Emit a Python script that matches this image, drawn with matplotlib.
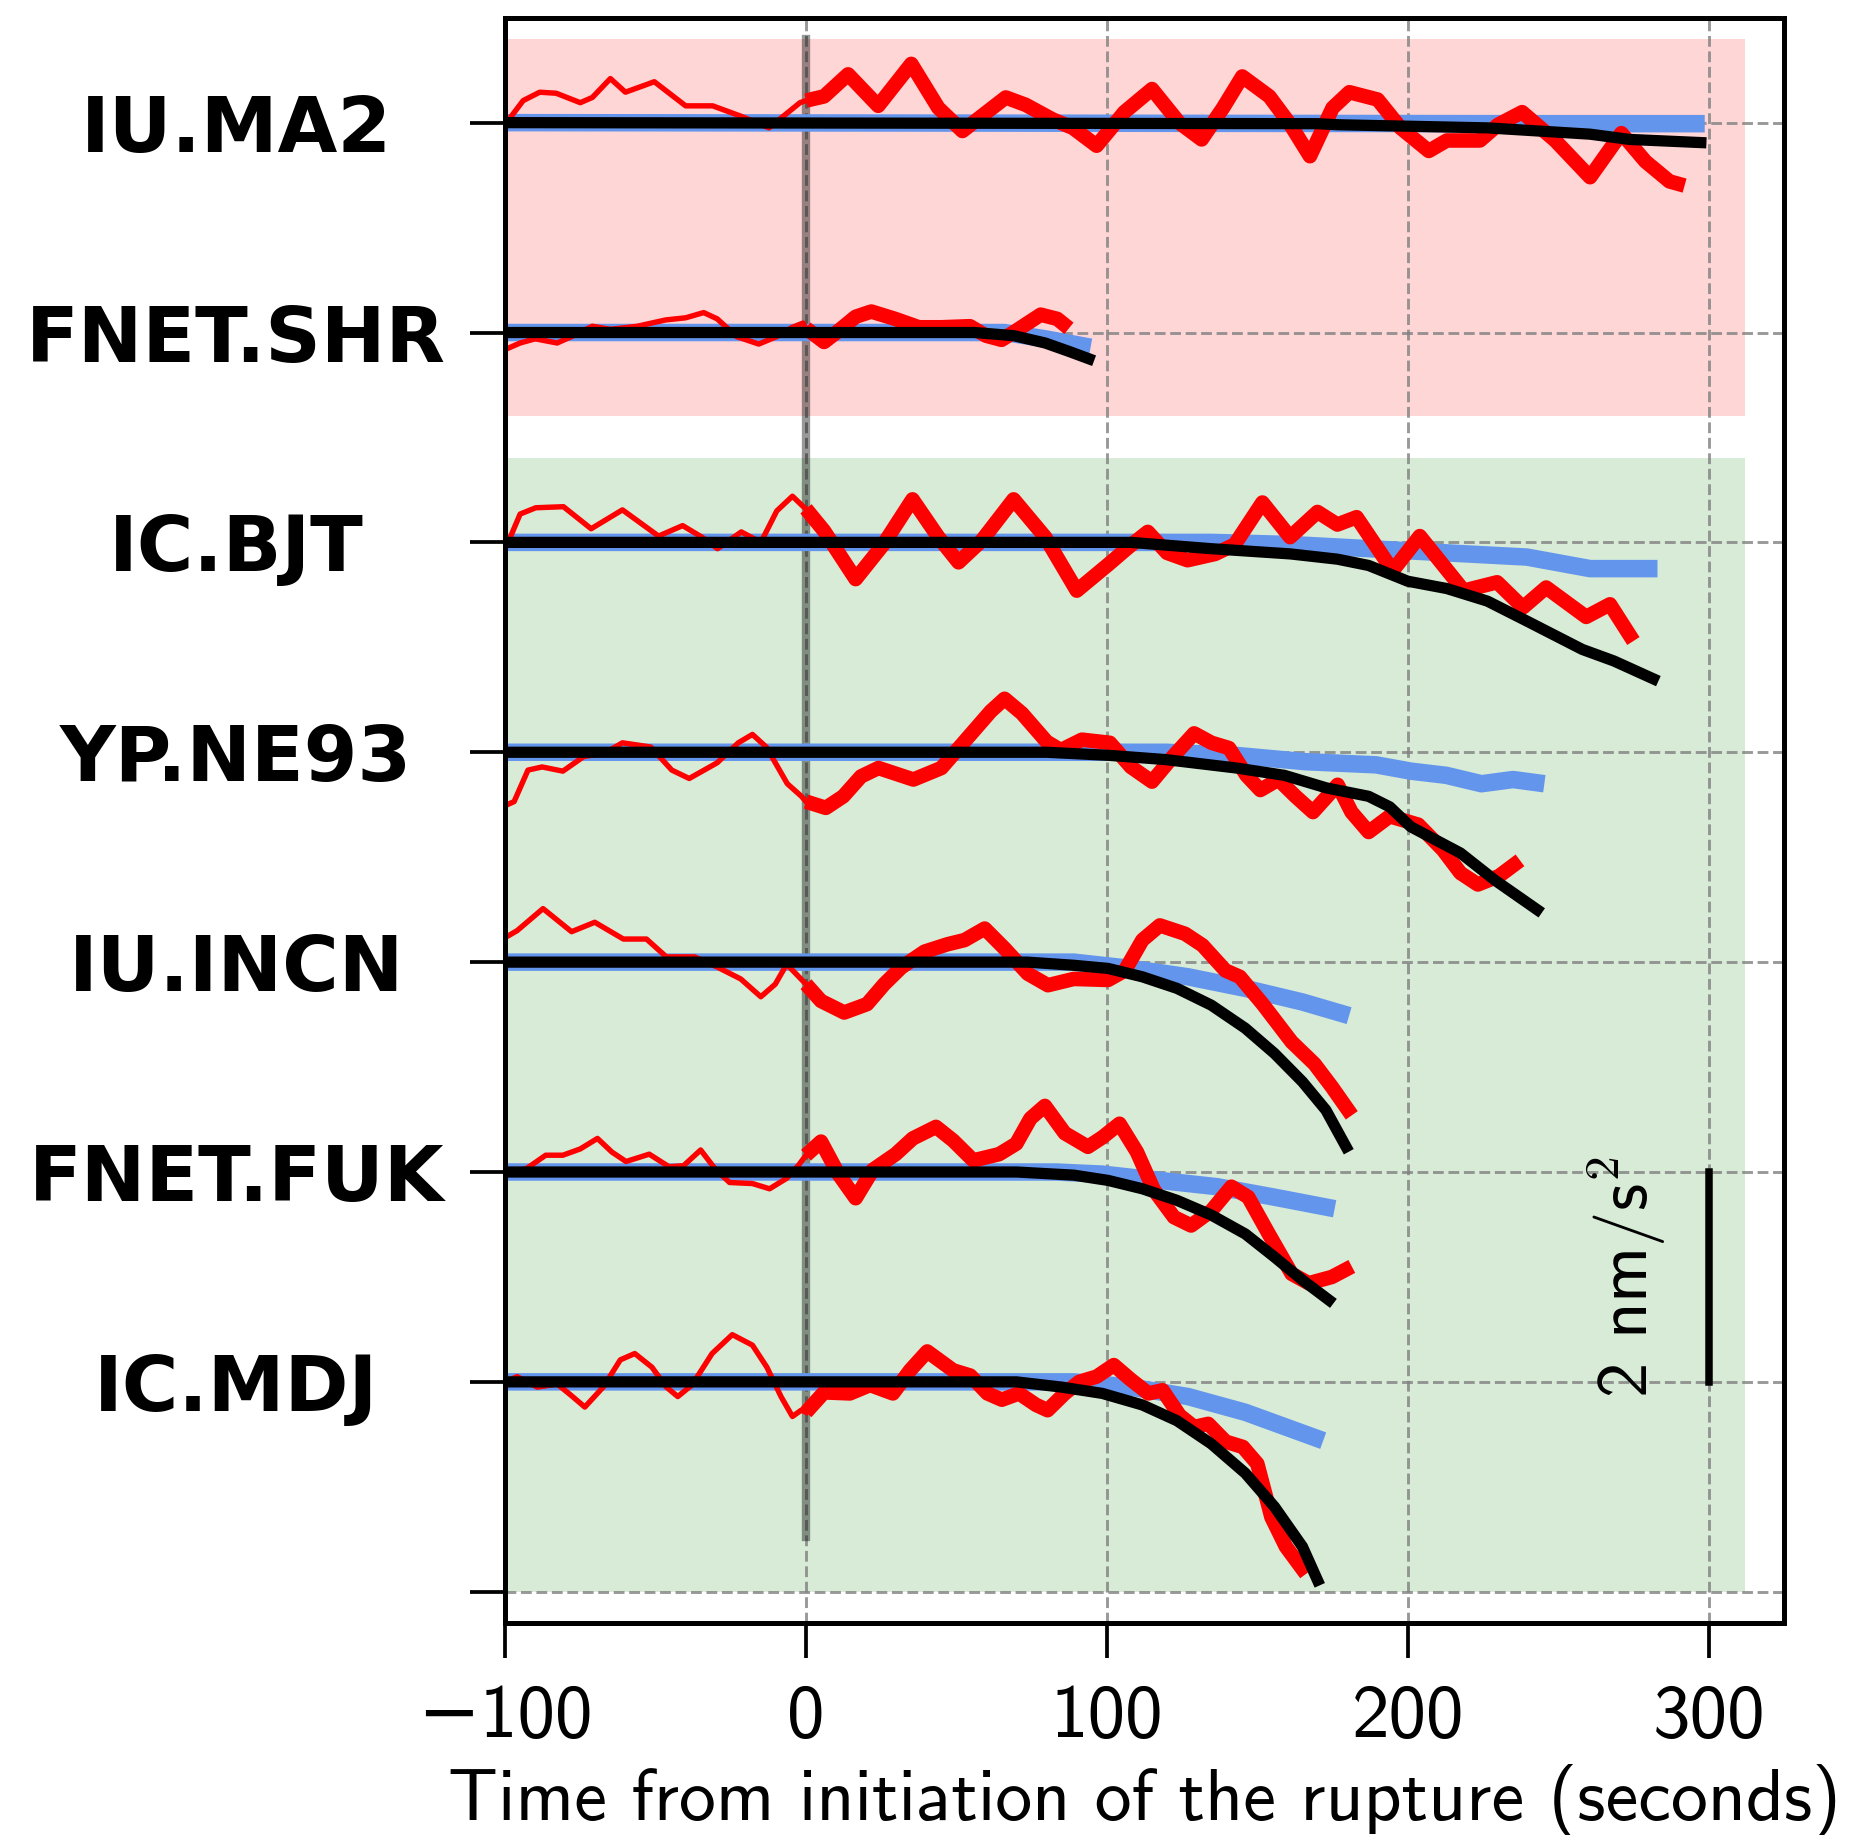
import matplotlib.pyplot as plt

# station order from bottom (offset 1) to top (offset 7)
stations = ["IC.MDJ", "FNET.FUK", "IU.INCN", "YP.NE93", "IC.BJT", "FNET.SHR", "IU.MA2"]

# traces as (time in s, acceleration in nm/s^2)
# red = observed, blue / black = the two model curves

ma2_red = [(-99, 0.02), (-94, 0.21), (-88.5, 0.29), (-83, 0.28), (-75, 0.19), (-71, 0.24),
           (-65, 0.42), (-60, 0.29), (-50.4, 0.39), (-40, 0.16), (-31, 0.16), (-21.5, 0.06),
           (-12.3, -0.05), (-2, 0.19), (0, 0.21), (6, 0.25), (14, 0.46), (24, 0.16), (35, 0.56),
           (44, 0.14), (52, -0.08), (66.4, 0.24), (73, 0.17), (82, 0.03), (88.7, -0.05),
           (96.6, -0.22), (105.8, 0.10), (115, 0.32), (124, 0.0), (131.5, -0.16), (138.6, 0.14),
           (145, 0.44), (154, 0.25), (161, -0.02), (167.5, -0.32), (175, 0.14), (180.6, 0.29),
           (190, 0.22), (197.6, -0.05), (207, -0.27), (213, -0.17), (224, -0.17), (230, -0.02),
           (238, 0.10), (249, -0.17), (260.6, -0.52), (271, -0.10), (279, -0.37), (287, -0.56),
           (292, -0.60)]
ma2_black = [(-100, 0), (170, -0.01), (176.6, -0.02), (226.5, -0.05), (260.6, -0.11),
             (273.7, -0.16), (297.4, -0.19)]
ma2_blue = [(-100, 0), (250, -0.01), (298.7, -0.01)]

shr_red = [(-99, -0.15), (-95, -0.10), (-90, -0.06), (-82.7, -0.10), (-78, -0.04), (-71, 0.06),
           (-65, 0.03), (-56, 0.06), (-46.6, 0.12), (-40, 0.14), (-34, 0.19), (-29.5, 0.13),
           (-23, -0.04), (-15.7, -0.11), (-9.8, -0.04), (-4.5, 0.05), (-1, 0.09), (0, 0.04),
           (6, -0.09), (11, 0.02), (16.5, 0.15), (21.7, 0.20), (29.6, 0.13), (37.5, 0.05),
           (45, 0.05), (54.5, 0.06), (59.8, -0.03), (65, -0.07), (70, 0.02), (78, 0.17),
           (83.5, 0.13), (87.4, 0.04)]
shr_black = [(-100, 0), (56, 0), (69, -0.03), (79.5, -0.10), (87.4, -0.18), (94, -0.25)]
shr_blue = [(-100, 0), (66, 0), (79.5, -0.06), (94.6, -0.14)]

bjt_red = [(-99, 0.0), (-95, 0.27), (-89.8, 0.33), (-80.6, 0.34), (-71.4, 0.13), (-61, 0.31),
           (-49, 0.06), (-41, 0.16), (-34.6, 0.05), (-29.4, -0.06), (-21.5, 0.10), (-15, 0.0),
           (-9.7, 0.30), (-4.5, 0.44), (-0.5, 0.33), (0, 0.32), (6, 0.11), (16.5, -0.35),
           (25.7, -0.02), (35.4, 0.41), (44, 0.05), (50.7, -0.19), (58.5, 0.02), (69, 0.41),
           (79.5, 0.05), (90, -0.46), (100.5, -0.21), (107, -0.05), (113.6, 0.10), (120, -0.10),
           (126.8, -0.17), (136, -0.11), (142.5, -0.02), (151.7, 0.38), (160.9, 0.05),
           (170, 0.29), (176.6, 0.17), (183, 0.24), (195, -0.27), (204, 0.06), (218.6, -0.46),
           (229.7, -0.38), (238.3, -0.62), (246, -0.43), (259.3, -0.71), (267.2, -0.59),
           (275, -0.94)]
bjt_black = [(-100, 0), (108, 0), (134.6, -0.06), (161, -0.11), (176.6, -0.16), (187, -0.22),
             (200, -0.37), (213, -0.44), (226.5, -0.56), (239.6, -0.75), (258, -1.02),
             (268.5, -1.13), (281.6, -1.30)]
bjt_blue = [(-100, 0), (134.6, 0), (161, -0.02), (187, -0.06), (213, -0.10), (239.6, -0.14),
            (260.6, -0.25), (283, -0.25)]

ne93_red = [(-99.3, -0.50), (-97, -0.47), (-92.4, -0.17), (-87.7, -0.14), (-80.8, -0.18),
            (-73.8, -0.04), (-67, -0.01), (-61, 0.09), (-51.6, 0.05), (-44.6, -0.17),
            (-38.8, -0.25), (-29.5, -0.10), (-22.5, 0.09), (-17.8, 0.17), (-13.2, 0.05),
            (-6.2, -0.30), (-1.5, -0.42), (0, -0.47), (6.6, -0.53), (12.4, -0.42), (18.3, -0.23),
            (24.1, -0.15), (35.7, -0.26), (45, -0.15), (53.2, 0.12), (61.4, 0.39), (66, 0.51),
            (71.8, 0.37), (80, 0.10), (84.7, 0.02), (91.7, 0.12), (101, 0.09), (108, -0.14),
            (115, -0.28), (122, -0.04), (129, 0.18), (134.8, 0.09), (140.6, 0.04), (146.4, -0.22),
            (151, -0.36), (157, -0.26), (162.7, -0.42), (168.5, -0.57), (176.7, -0.31),
            (181.3, -0.57), (187, -0.76), (194, -0.61), (203.5, -0.69), (211.7, -0.93),
            (217.5, -1.15), (223.3, -1.26), (230.3, -1.18), (237.3, -1.03)]
ne93_black = [(-100, 0), (80, 0), (101, -0.03), (119.6, -0.07), (143, -0.15), (159, -0.22),
              (173, -0.34), (187, -0.42), (194, -0.52), (201, -0.71), (217.5, -0.96),
              (229, -1.22), (243, -1.50)]
ne93_blue = [(-100, 0), (119.6, 0), (143, -0.03), (166, -0.09), (189.5, -0.12), (201, -0.18),
             (212.8, -0.22), (224.5, -0.30), (235, -0.26), (245.4, -0.30)]

incn_red = [(-99, 0.25), (-96, 0.30), (-87.4, 0.51), (-77.9, 0.29), (-70.2, 0.38), (-60.7, 0.22),
            (-53, 0.22), (-46.4, 0.05), (-37, 0.05), (-29.3, -0.05), (-21.7, -0.16),
            (-15, -0.33), (-10.2, -0.21), (-6.4, -0.02), (0, -0.21), (5, -0.37), (12.7, -0.48),
            (20.3, -0.40), (26, -0.21), (31.7, -0.05), (39.4, 0.10), (47, 0.17), (52.7, 0.21),
            (59.4, 0.32), (66, 0.13), (73.7, -0.11), (80.4, -0.22), (89, -0.16), (100.4, -0.17),
            (106, -0.08), (111.8, 0.21), (117.6, 0.35), (126, 0.27), (131.8, 0.16),
            (139.4, -0.08), (144.2, -0.14), (151.8, -0.40), (161.4, -0.76), (169, -0.97),
            (174.8, -1.19), (181.4, -1.46)]
incn_black = [(-100, 0), (73.7, 0), (89, -0.03), (100.4, -0.06), (111.8, -0.14), (123.3, -0.25),
              (134.7, -0.41), (146, -0.63), (155.7, -0.87), (165, -1.14), (172.8, -1.41),
              (179.5, -1.76)]
incn_blue = [(-100, 0), (89, 0), (108, -0.06), (127, -0.14), (146, -0.25), (165, -0.38),
             (180.5, -0.51)]

fuk_red = [(-99.8, 0.0), (-93, 0.03), (-86.5, 0.16), (-80.8, 0.16), (-75, 0.22), (-69.3, 0.32),
           (-64.5, 0.19), (-59.8, 0.10), (-52.1, 0.17), (-45.5, 0.05), (-40.7, 0.06), (-35, 0.21),
           (-30.2, 0.03), (-25.4, -0.10), (-17.8, -0.11), (-12.1, -0.16), (-6.4, -0.06),
           (-2.6, 0.06), (0, 0.16), (5, 0.29), (10.8, -0.02), (16.5, -0.25), (22.2, 0.02),
           (29.8, 0.17), (35.5, 0.32), (43.2, 0.43), (48.9, 0.30), (55.6, 0.11), (64.2, 0.17),
           (69.9, 0.27), (74.6, 0.51), (79.4, 0.63), (86, 0.37), (93.7, 0.24), (98.5, 0.33),
           (104.2, 0.46), (110, 0.19), (115.6, -0.17), (122.3, -0.43), (128, -0.51),
           (134.7, -0.37), (141.4, -0.14), (147, -0.24), (153.8, -0.59), (161.4, -0.97),
           (167.1, -1.06), (174.8, -1.00), (181.4, -0.90)]
fuk_black = [(-100, 0), (70, 0), (89, -0.03), (100.4, -0.08), (111.8, -0.16), (123.3, -0.27),
             (134.7, -0.41), (146, -0.59), (155.7, -0.81), (165, -1.03), (173.8, -1.22)]
fuk_blue = [(-100, 0), (83, 0), (98.5, -0.02), (117.5, -0.08), (136.6, -0.14), (155.7, -0.24),
            (175.7, -0.35)]

mdj_red = [(-99.8, 0.0), (-96, 0.05), (-89.3, -0.05), (-82.7, -0.02), (-78, -0.13),
           (-73.5, -0.24), (-67.4, -0.05), (-61.7, 0.21), (-56.9, 0.27), (-51.2, 0.14),
           (-46.4, -0.05), (-42.6, -0.14), (-37.9, -0.03), (-31.2, 0.27), (-24.5, 0.45),
           (-17.8, 0.35), (-13, 0.14), (-8.3, -0.14), (-4.5, -0.33), (-1.6, -0.27), (0, -0.29),
           (6, -0.10), (14.6, -0.11), (21.3, -0.03), (28.9, -0.11), (34.6, 0.11), (40.3, 0.29),
           (48.9, 0.11), (54.6, 0.06), (60.3, -0.11), (65.1, -0.17), (70.8, -0.11),
           (76.5, -0.22), (80.3, -0.27), (86, -0.11), (90.8, 0.0), (96.6, 0.05), (102.3, 0.16),
           (108, 0.02), (113.8, -0.11), (118.5, -0.08), (124.2, -0.32), (129, -0.43),
           (133.7, -0.40), (139.5, -0.57), (145.2, -0.62), (150, -0.78), (154.7, -1.29),
           (159.5, -1.57), (166.2, -1.83)]
mdj_black = [(-100, 0), (70, 0), (85, -0.05), (98.5, -0.11), (111.8, -0.22), (123.3, -0.37),
             (134.7, -0.59), (146, -0.87), (155.7, -1.19), (165, -1.57), (170, -1.89)]
mdj_blue = [(-100, 0), (89, 0), (108, -0.05), (127, -0.14), (146, -0.29), (171.9, -0.56)]

red_traces = [mdj_red, fuk_red, incn_red, ne93_red, bjt_red, shr_red, ma2_red]
black_traces = [mdj_black, fuk_black, incn_black, ne93_black, bjt_black, shr_black, ma2_black]
blue_traces = [mdj_blue, fuk_blue, incn_blue, ne93_blue, bjt_blue, shr_blue, ma2_blue]

scale = 0.5  # one offset unit = 2 nm/s^2

plt.rcParams['axes.unicode_minus'] = True
plt.rcParams['mathtext.fontset'] = 'cm'
sans = ['cmss10', 'DejaVu Sans']

fig = plt.figure(figsize=(6.183, 6.117), dpi=300)
ax = fig.add_axes([0.2723, 0.1154, 0.6894, 0.8749])

# shaded groups
ax.fill_between([-100, 312], 5.6, 7.4, color='red', alpha=0.16, lw=0, zorder=0.5)
ax.fill_between([-100, 312], 0, 5.4, color='green', alpha=0.155, lw=0, zorder=0.5)

ax.plot([0, 0], [0.26, 7.4], color='k', alpha=0.4, lw=2.0, zorder=1.8)

for k in range(len(stations)):
    off = k + 1
    red = red_traces[k]
    pre = [p for p in red if p[0] <= 0]
    post = [p for p in red if p[0] >= 0]
    ax.plot([p[0] for p in blue_traces[k]], [off + scale * p[1] for p in blue_traces[k]],
            color='cornflowerblue', lw=4.2, solid_capstyle='butt', zorder=2)
    ax.plot([p[0] for p in pre], [off + scale * p[1] for p in pre],
            color='red', lw=1.3, solid_joinstyle='round', zorder=2.1)
    ax.plot([p[0] for p in post], [off + scale * p[1] for p in post],
            color='red', lw=3.5, solid_joinstyle='round', solid_capstyle='butt', zorder=2.2)
    ax.plot([p[0] for p in black_traces[k]], [off + scale * p[1] for p in black_traces[k]],
            color='black', lw=2.7, solid_joinstyle='round', zorder=2.3)

# scale bar
ax.plot([300, 300], [1, 2], color='black', lw=1.8, zorder=3)
ax.text(273, 1.5, r'2 nm/s$^{\mathsf{2}}$', rotation=90, ha='center', va='center',
        fontsize=17, family=sans)

ax.set_xlim(-100, 325)
ax.set_ylim(-0.15, 7.5)
ax.set_xticks([-100, 0, 100, 200, 300])
ax.set_yticks(range(0, 8))
ax.set_yticklabels([''] + stations, fontweight='bold', fontsize=18.5, ha='center')
ax.tick_params(axis='y', length=8.5, width=0.9, pad=56)
ax.tick_params(axis='x', length=8.5, width=0.9, pad=6, labelsize=18)
for lab in ax.get_xticklabels():
    lab.set_family(sans)
ax.set_xlabel('Time from initiation of the rupture (seconds)', fontsize=17.7,
              family=sans, labelpad=3)
ax.grid(True, color='gray', ls='--', lw=0.7, alpha=0.8)
for s in ax.spines.values():
    s.set_linewidth(1.2)

fig.savefig('out.png', dpi=300)
